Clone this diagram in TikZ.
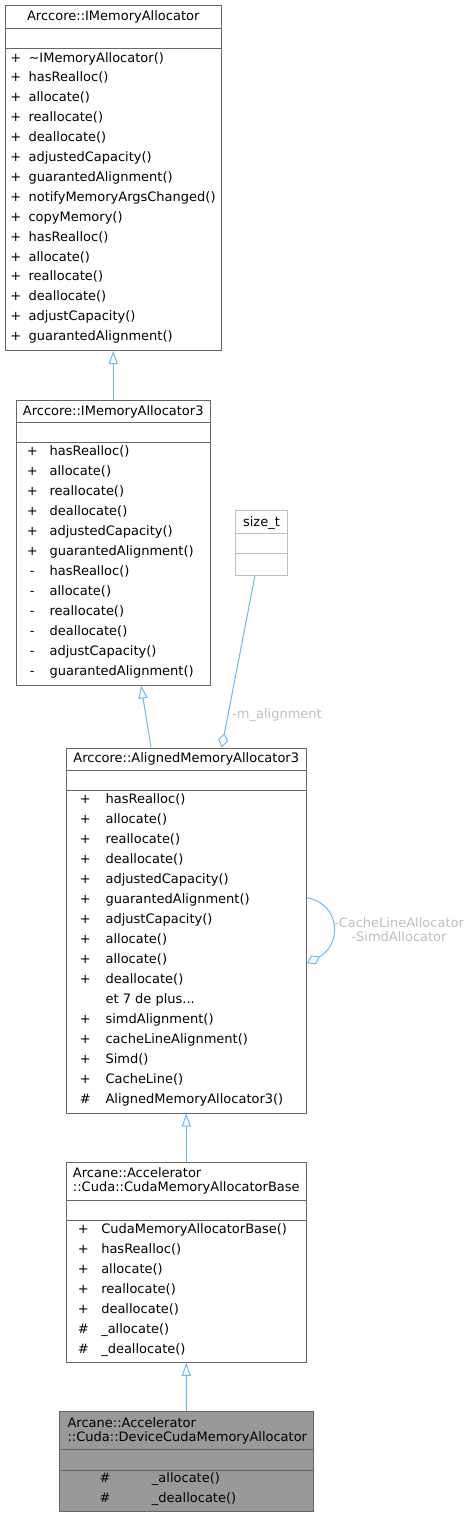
\documentclass[tikz,border=0pt]{standalone}
\usepackage{fontspec}
\setmainfont{DejaVu Sans}
\usetikzlibrary{arrows.meta,fit}
\definecolor{edgeblue}{HTML}{63B8FF}
\definecolor{boxgrey}{HTML}{666666}
\definecolor{lightbox}{HTML}{BFBFBF}
\definecolor{labelgrey}{HTML}{BEBEBE}
\definecolor{curfill}{HTML}{999999}
\begin{document}
\begin{tikzpicture}[x=0.75pt,y=-0.75pt,
  font=\fontsize{9.75pt}{10.5pt}\selectfont,
  classbox/.style={draw=boxgrey,line width=0.75pt,fill=white,inner sep=0pt},
  sepline/.style={draw=boxgrey,line width=0.75pt},
  member/.style={anchor=west,inner sep=0pt,text height=7.4pt,text depth=1.3pt},
  vis/.style={anchor=center,inner sep=0pt,text height=7.4pt,text depth=1.3pt},
  inherit/.style={draw=edgeblue,line width=0.75pt,-{Triangle[open,length=9.75pt,width=6.75pt]}},
  aggreg/.style={draw=edgeblue,line width=0.75pt,-{Diamond[open,length=11pt,width=7.5pt]}},
  edgelabel/.style={text=labelgrey,inner sep=0pt,align=center}]
\useasboundingbox (0,0) rectangle (471,1517);
% Arccore::IMemoryAllocator
\node[classbox,fit={(5,5) (221.5,350.5)}] (IMA) {};
\draw[sepline] (IMA.west |- 0,28.3) -- (IMA.east |- 0,28.3);
\draw[sepline] (IMA.west |- 0,48.3) -- (IMA.east |- 0,48.3);
\node (IMA-t) at (113.25,16.5) {Arccore::IMemoryAllocator};
\foreach \m [count=\i from 0] in {\textasciitilde IMemoryAllocator(),hasRealloc(),allocate(),reallocate(),deallocate(),adjustedCapacity(),guarantedAlignment(),notifyMemoryArgsChanged(),copyMemory(),hasRealloc(),allocate(),reallocate(),deallocate(),adjustCapacity(),guarantedAlignment()}{
  \node[vis] (IMA-p\i) at (15.7,58+19.9*\i) {+};
  \node[member] (IMA-r\i) at (28.3,58+19.9*\i) {\m};
}
% Arccore::IMemoryAllocator3
\node[classbox,fit={(16,400) (210.5,685)}] (IMA3) {};
\draw[sepline] (IMA3.west |- 0,422.7) -- (IMA3.east |- 0,422.7);
\draw[sepline] (IMA3.west |- 0,442.3) -- (IMA3.east |- 0,442.3);
\node (IMA3-t) at (113.25,412.3) {Arccore::IMemoryAllocator3};
\foreach \p/\m [count=\i from 0] in {+/hasRealloc(),+/allocate(),+/reallocate(),+/deallocate(),+/adjustedCapacity(),+/guarantedAlignment(),-/hasRealloc(),-/allocate(),-/reallocate(),-/deallocate(),-/adjustCapacity(),-/guarantedAlignment()}{
  \node[vis] (IMA3-p\i) at (32.3,451.7+20*\i) {\p};
  \node[member] (IMA3-r\i) at (49.3,451.7+20*\i) {\m};
}
% size_t
\node[classbox,draw=lightbox,fit={(235.5,510) (287.5,575)}] (SZT) {};
\draw[sepline,draw=lightbox] (SZT.west |- 0,533.3) -- (SZT.east |- 0,533.3);
\draw[sepline,draw=lightbox] (SZT.west |- 0,553.3) -- (SZT.east |- 0,553.3);
\node (SZT-t) at (261.5,522.7) {size\_t};
% Arccore::AlignedMemoryAllocator3
\node[classbox,fit={(66,748) (306.5,1113)}] (AM3) {};
\draw[sepline] (AM3.west |- 0,770.7) -- (AM3.east |- 0,770.7);
\draw[sepline] (AM3.west |- 0,790.7) -- (AM3.east |- 0,790.7);
\node (AM3-t) at (186.25,759.3) {Arccore::AlignedMemoryAllocator3};
\foreach \p/\m [count=\i from 0] in {+/hasRealloc(),+/allocate(),+/reallocate(),+/deallocate(),+/adjustedCapacity(),+/guarantedAlignment(),+/adjustCapacity(),+/allocate(),+/allocate(),+/deallocate()}{
  \node[vis] (AM3-p\i) at (85.3,799.3+20*\i) {\p};
  \node[member] (AM3-r\i) at (105.3,799.3+20*\i) {\m};
}
\node[member] (AM3-r10) at (105.3,999.3) {et 7 de plus...};
\foreach \p/\m [count=\i from 11] in {+/simdAlignment(),+/cacheLineAlignment(),+/Simd(),+/CacheLine(),\#/AlignedMemoryAllocator3()}{
  \node[vis] (AM3-p\i) at (85.3,799.3+20*\i) {\p};
  \node[member] (AM3-r\i) at (105.3,799.3+20*\i) {\m};
}
% Arcane::Accelerator::Cuda::CudaMemoryAllocatorBase
\node[classbox,fit={(66,1162.7) (306.5,1362.3)}] (CMB) {};
\draw[sepline] (CMB.west |- 0,1200) -- (CMB.east |- 0,1200);
\draw[sepline] (CMB.west |- 0,1220) -- (CMB.east |- 0,1220);
\node[anchor=west,align=left,inner sep=0pt] (CMB-t) at (72.7,1181.3) {Arcane::Accelerator\\::Cuda::CudaMemoryAllocatorBase};
\foreach \p/\m [count=\i from 0] in {+/CudaMemoryAllocatorBase(),+/hasRealloc(),+/allocate(),+/reallocate(),+/deallocate(),\#/\_allocate(),\#/\_deallocate()}{
  \node[vis] (CMB-p\i) at (83.3,1229.3+20*\i) {\p};
  \node[member] (CMB-r\i) at (101,1229.3+20*\i) {\m};
}
% Arcane::Accelerator::Cuda::DeviceCudaMemoryAllocator
\node[classbox,fill=curfill,fit={(59.3,1411.7) (313.3,1511.7)}] (DCMA) {};
\draw[sepline] (DCMA.west |- 0,1449.3) -- (DCMA.east |- 0,1449.3);
\draw[sepline] (DCMA.west |- 0,1470) -- (DCMA.east |- 0,1470);
\node[anchor=west,align=left,inner sep=0pt] (DCMA-t) at (67.3,1431) {Arcane::Accelerator\\::Cuda::DeviceCudaMemoryAllocator};
\foreach \m [count=\i from 0] in {\_allocate(),\_deallocate()}{
  \node[vis] (DCMA-p\i) at (105,1478.3+20*\i) {\#};
  \node[member] (DCMA-r\i) at (151.7,1478.3+20*\i) {\m};
}
% relations
\draw[inherit] (IMA3) -- (IMA);
\draw[inherit] ([xshift=-26.4pt]AM3.north) -- ([xshift=20.8pt]IMA3.south);
\draw[aggreg] ([xshift=-4.9pt]SZT.south) -- ([xshift=26.6pt]AM3.north);
\node[edgelabel] (AM3-align) at (277,715) {-m\_alignment};
\draw[aggreg] ([yshift=24.6pt]AM3.east) .. controls +(35,7) and +(34,-18) .. ([yshift=-24.6pt]AM3.east);
\node[edgelabel] (AM3-alloc) at (399,929.7) {-CacheLineAllocator\\-SimdAllocator};
\draw[inherit] (CMB) -- (AM3);
\draw[inherit] (DCMA) -- (CMB);
\end{tikzpicture}
\end{document}
